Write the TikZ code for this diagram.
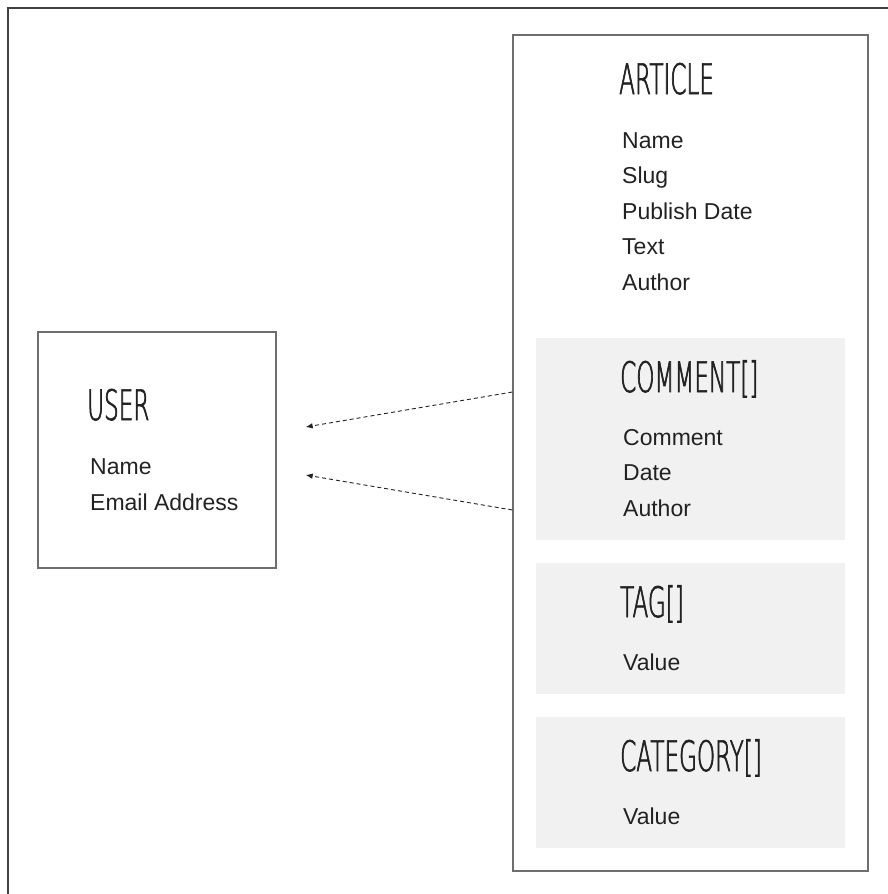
\documentclass[tikz,border=0pt]{standalone}
\usepackage{fontspec}
\setmainfont{Liberation Sans}
\newfontfamily\headfont[FakeStretch=0.55,FakeBold=1.5]{DejaVu Sans ExtraLight}
\usepackage{xcolor}
\usetikzlibrary{arrows.meta,calc}
\definecolor{boxgray}{HTML}{6E6E6E}
\definecolor{panelgray}{HTML}{F1F1F1}
\definecolor{inkdark}{HTML}{222222}

\tikzset{
  entity/.style={draw=boxgray,line width=1.3pt,inner sep=0pt},
  panel/.style={fill=panelgray,inner sep=0pt},
  title/.style={anchor=base west,inner sep=0pt,text=inkdark,font=\headfont\fontsize{42}{42}\selectfont},
  field/.style={anchor=base west,inner sep=0pt,text=inkdark,font=\fontsize{23}{27}\selectfont},
  link/.style={draw=inkdark,line width=0.9pt,dash pattern=on 4pt off 3pt,-{Latex[length=7pt,width=5.5pt]}}
}

\begin{document}
\begin{tikzpicture}[x=1pt,y=-1pt]
  \useasboundingbox (0,0) rectangle (888,894);
  \draw[line width=2pt,black!75] (8,894) -- (8,8) -- (888,8);
  % boxes
  \node[entity,minimum width=238,minimum height=236] (user) at (157,450) {};
  \node[entity,minimum width=355,minimum height=836] (article) at (690.5,453) {};
  \node[panel,minimum width=309,minimum height=202] (comment) at (690.5,439) {};
  \node[panel,minimum width=309,minimum height=131] (tag) at (690.5,628.5) {};
  \node[panel,minimum width=309,minimum height=131] (category) at (690.5,782.5) {};
  % titles
  \node[title] (usertitle) at (87,420) {USER};
  \node[title] (articletitle) at (619,94) {ARTICLE};
  \node[title] (commenttitle) at (620,392) {COMMENT[]};
  \node[title] (tagtitle) at (620,617) {TAG[]};
  \node[title] (categorytitle) at (620,771) {CATEGORY[]};
  % fields
  \foreach \f [count=\i] in {Name,Email Address}
    \node[field] (userfield\i) at (90,{474+36*(\i-1)}) {\f};
  \foreach \f [count=\i] in {Name,Slug,Publish Date,Text,Author}
    \node[field] (articlefield\i) at (622,{148+35.5*(\i-1)}) {\f};
  \foreach \f [count=\i] in {Comment,Date,Author}
    \node[field] (commentfield\i) at (623,{445+35.5*(\i-1)}) {\f};
  \node[field] (tagfield) at (623,670) {Value};
  \node[field] (categoryfield) at (623,824) {Value};
  % references back to the user
  \coordinate (from1) at ([yshift=47pt]comment.west -| article.west);
  \coordinate (from2) at ([yshift=-71pt]comment.west -| article.west);
  \coordinate (to1) at ([xshift=29pt,yshift=23pt]user.east);
  \coordinate (to2) at ([xshift=29pt,yshift=-25pt]user.east);
  \draw[link] (from1) -- (to1);
  \draw[link] (from2) -- (to2);
\end{tikzpicture}
\end{document}
